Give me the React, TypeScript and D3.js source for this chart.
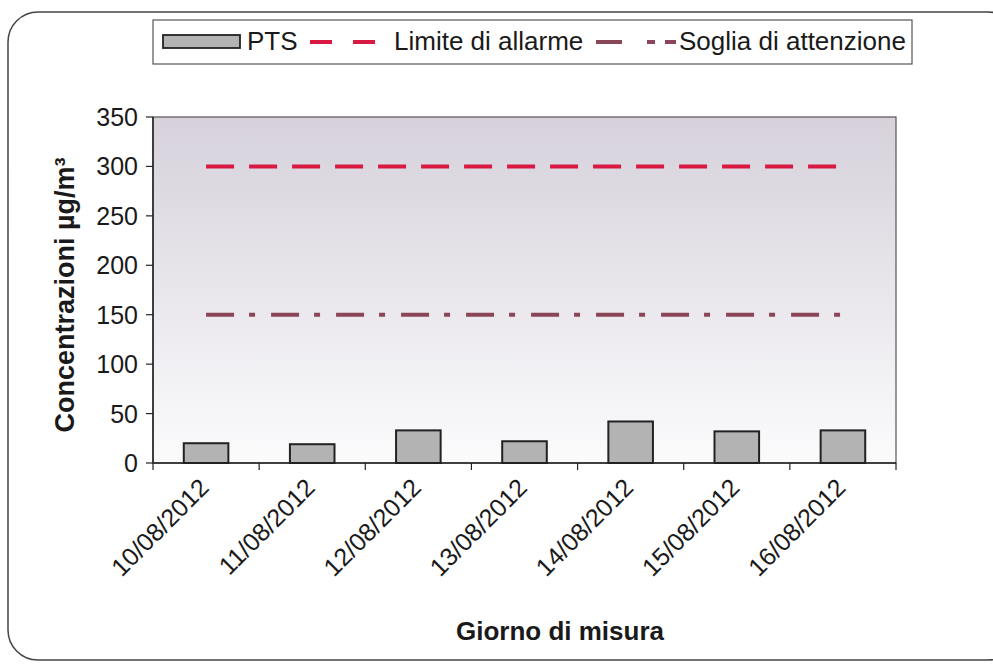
import React from "react";
import * as d3 from "d3";

const categories = ["10/08/2012", "11/08/2012", "12/08/2012", "13/08/2012", "14/08/2012", "15/08/2012", "16/08/2012"];
const ptsValues = [20, 19, 33, 22, 42, 32, 33];
const limiteAllarme = [300, 300, 300, 300, 300, 300, 300];
const sogliaAttenzione = [150, 150, 150, 150, 150, 150, 150];
const yTicks = [0, 50, 100, 150, 200, 250, 300, 350];

const W = 993, H = 664;
const plot = { left: 153, right: 896, top: 117, bottom: 463 };
const font = "'Liberation Sans', Arial, sans-serif";

export default function App() {
  const x = d3.scaleBand<string>().domain(categories).range([plot.left, plot.right]).paddingInner(0).paddingOuter(0);
  const y = d3.scaleLinear().domain([0, 350]).range([plot.bottom, plot.top]);
  const bw = x.bandwidth() * 0.42;
  const cx = (c: string) => (x(c) as number) + x.bandwidth() / 2;
  const line = d3.line<number>().x((_, i) => cx(categories[i])).y((d) => y(d));
  const boundaries = [...categories.map((c) => x(c) as number), plot.right];

  return (
    <svg width={W} height={H} style={{ position: "absolute", left: 0, top: 0, background: "#fff" }} fontFamily={font}>
      <defs>
        <linearGradient id="bg" x1="0" y1="0" x2="0" y2="1">
          <stop offset="0%" stopColor="#d6d1db" />
          <stop offset="100%" stopColor="#fbfbfc" />
        </linearGradient>
      </defs>
      {/* outer rounded frame */}
      <rect x={8} y={12} width={1010} height={648} rx={30} ry={30} fill="none" stroke="#444" strokeWidth={1.5} />

      {/* plot area */}
      <rect x={plot.left} y={plot.top} width={plot.right - plot.left} height={plot.bottom - plot.top} fill="url(#bg)" stroke="#555" strokeWidth={1.2} />

      {/* y axis */}
      <line x1={plot.left} x2={plot.left} y1={plot.top} y2={plot.bottom} stroke="#222" strokeWidth={1.5} />
      {yTicks.map((t) => (
        <g key={t}>
          <line x1={plot.left - 7} x2={plot.left} y1={y(t)} y2={y(t)} stroke="#222" strokeWidth={1.2} />
          <text x={138} y={y(t)} dy="0.36em" textAnchor="end" fontSize={25} fill="#1a1a1a">{t}</text>
        </g>
      ))}
      <text transform={`translate(74,${(plot.top + plot.bottom) / 2 + 5}) rotate(-90)`} textAnchor="middle" fontSize={27} fontWeight="bold" fill="#1a1a1a">
        Concentrazioni µg/m³
      </text>

      {/* bars */}
      {categories.map((c, i) => (
        <rect key={c} x={cx(c) - bw / 2} y={y(ptsValues[i])} width={bw} height={y(0) - y(ptsValues[i])} fill="#b3b3b3" stroke="#222" strokeWidth={2} />
      ))}

      {/* x axis */}
      <line x1={plot.left} x2={plot.right} y1={plot.bottom} y2={plot.bottom} stroke="#222" strokeWidth={1.5} />
      {boundaries.map((b, i) => (
        <line key={i} x1={b} x2={b} y1={plot.bottom} y2={plot.bottom + 7} stroke="#222" strokeWidth={1.2} />
      ))}
      {categories.map((c) => (
        <text key={c} transform={`translate(${cx(c) - 2},${plot.bottom + 20}) rotate(-45)`} textAnchor="end" dy="0.35em" fontSize={25} fill="#1a1a1a">
          {c}
        </text>
      ))}
      <text x={560} y={640} textAnchor="middle" fontSize={26} fontWeight="bold" fill="#1a1a1a">Giorno di misura</text>

      {/* reference lines */}
      <path d={line(limiteAllarme) || ""} fill="none" stroke="#d81a42" strokeWidth={4} strokeDasharray="28,15" />
      <path d={line(sogliaAttenzione) || ""} fill="none" stroke="#8a4658" strokeWidth={4} strokeDasharray="28,15,6,16" />

      {/* legend */}
      <rect x={153} y={20} width={759} height={44} fill="#fff" stroke="#555" strokeWidth={1.2} />
      <rect x={163} y={35} width={77} height={13} fill="#b3b3b3" stroke="#222" strokeWidth={1.8} />
      <text x={247} y={41} dy="0.36em" fontSize={26} fill="#1a1a1a">PTS</text>
      <line x1={310} x2={375} y1={42} y2={42} stroke="#d81a42" strokeWidth={4} strokeDasharray="22,21" />
      <text x={394} y={41} dy="0.36em" fontSize={26} fill="#1a1a1a">Limite di allarme</text>
      <line x1={596} x2={676} y1={42} y2={42} stroke="#8a4658" strokeWidth={4} strokeDasharray="26,25,8,10" />
      <text x={679} y={41} dy="0.36em" fontSize={26} fill="#1a1a1a">Soglia di attenzione</text>
    </svg>
  );
}
